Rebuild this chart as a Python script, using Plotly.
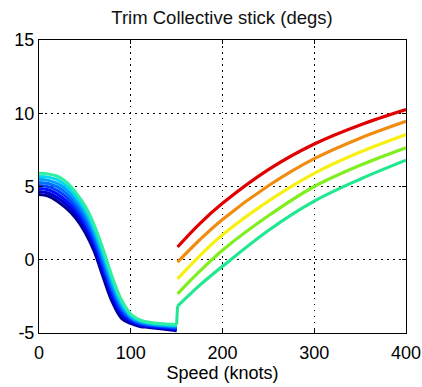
import plotly.graph_objects as go

# ---- data ----
speed_low = [0, 10, 20, 30, 40, 50, 60, 70, 80, 90, 100, 110, 120, 135, 150]
low_1 = [4.45, 4.35, 4.00, 3.50, 2.85, 1.90, 0.60, -1.20, -2.90, -4.00, -4.35, -4.55, -4.62, -4.73, -4.84]
low_2 = [4.66, 4.56, 4.24, 3.76, 3.10, 2.16, 0.86, -0.93, -2.66, -3.82, -4.26, -4.49, -4.57, -4.68, -4.78]
low_3 = [4.86, 4.78, 4.49, 4.01, 3.35, 2.41, 1.11, -0.66, -2.41, -3.64, -4.16, -4.42, -4.52, -4.63, -4.72]
low_4 = [5.07, 4.99, 4.73, 4.27, 3.60, 2.67, 1.37, -0.39, -2.17, -3.46, -4.07, -4.36, -4.47, -4.58, -4.66]
low_5 = [5.28, 5.21, 4.97, 4.53, 3.85, 2.93, 1.63, -0.11, -1.93, -3.29, -3.98, -4.29, -4.42, -4.52, -4.60]
low_6 = [5.49, 5.42, 5.21, 4.79, 4.10, 3.19, 1.89, 0.16, -1.69, -3.11, -3.89, -4.23, -4.37, -4.47, -4.54]
low_7 = [5.69, 5.64, 5.46, 5.04, 4.35, 3.44, 2.14, 0.43, -1.44, -2.93, -3.79, -4.16, -4.32, -4.42, -4.48]
low_8 = [5.90, 5.85, 5.70, 5.30, 4.60, 3.70, 2.40, 0.70, -1.20, -2.75, -3.70, -4.10, -4.27, -4.37, -4.42]

speed_high = [150, 175, 200, 250, 300, 350, 400]
high_red = [0.87, 2.45, 3.85, 6.15, 7.90, 9.20, 10.25]
high_orange = [-0.16, 1.35, 2.75, 5.05, 6.90, 8.30, 9.45]
high_yellow = [-1.30, 0.25, 1.70, 4.00, 5.90, 7.35, 8.55]
high_green = [-2.33, -0.80, 0.65, 3.00, 5.00, 6.45, 7.65]
high_cyan = [-3.17, -1.75, -0.45, 2.00, 4.00, 5.50, 6.80]

x_ticks = [0, 100, 200, 300, 400]
y_ticks = [-5, 0, 5, 10, 15]

# ---- styles ----
low_series = [low_1, low_2, low_3, low_4, low_5, low_6, low_7, low_8]
low_colors = ["#00008F", "#0000CC", "#0010FF", "#0040FF", "#0070FF", "#00A0FF", "#00D8F0", "#30F0A0"]
high_series = [high_cyan, high_green, high_yellow, high_orange, high_red]
high_colors = ["#20E890", "#80EE20", "#F8F010", "#F08C10", "#E00000"]

fig = go.Figure()
for ys, c in zip(low_series, low_colors):
    fig.add_trace(go.Scatter(x=speed_low, y=ys, mode="lines",
                             line=dict(color=c, width=3, shape="spline", smoothing=1.0),
                             showlegend=False, hoverinfo="skip"))
# jump of the top low-speed curve into the first high-speed curve
fig.add_trace(go.Scatter(x=[speed_low[-1], speed_high[0] + 1], y=[low_8[-1], high_cyan[0]], mode="lines",
                         line=dict(color=high_colors[0], width=3), showlegend=False, hoverinfo="skip"))
for ys, c in zip(high_series, high_colors):
    fig.add_trace(go.Scatter(x=[speed_high[0] + 1] + speed_high[1:], y=ys, mode="lines",
                             line=dict(color=c, width=3.2, shape="spline", smoothing=1.0),
                             showlegend=False, hoverinfo="skip"))

axis_common = dict(showline=True, linecolor="black", linewidth=1, mirror="ticks",
                   ticks="inside", ticklen=4, tickcolor="black", automargin=False,
                   showgrid=True, gridcolor="black", gridwidth=1, griddash="1.5px,4.5px",
                   zeroline=False, tickfont=dict(family="Liberation Sans", size=18, color="black"))

fig.update_layout(
    width=422, height=387,
    margin=dict(l=39, r=16, t=40, b=54),
    paper_bgcolor="white", plot_bgcolor="white",
    title=dict(text="Trim Collective stick (degs)", x=222 / 422, xanchor="center",
               y=1 - 18 / 387, yanchor="middle", yref="container",
               font=dict(family="Liberation Sans", size=18.5, color="#111111")),
    xaxis=dict(range=[0, 400], tickvals=x_ticks, ticktext=[str(v) for v in x_ticks],
               ticklabelstandoff=3,
               title=dict(text="Speed (knots)", standoff=4,
                          font=dict(family="Liberation Sans", size=18, color="black")),
               **axis_common),
    yaxis=dict(range=[-5, 15], tickvals=y_ticks, ticktext=[str(v) for v in y_ticks],
               **axis_common),
)

fig.write_html("out.html")
